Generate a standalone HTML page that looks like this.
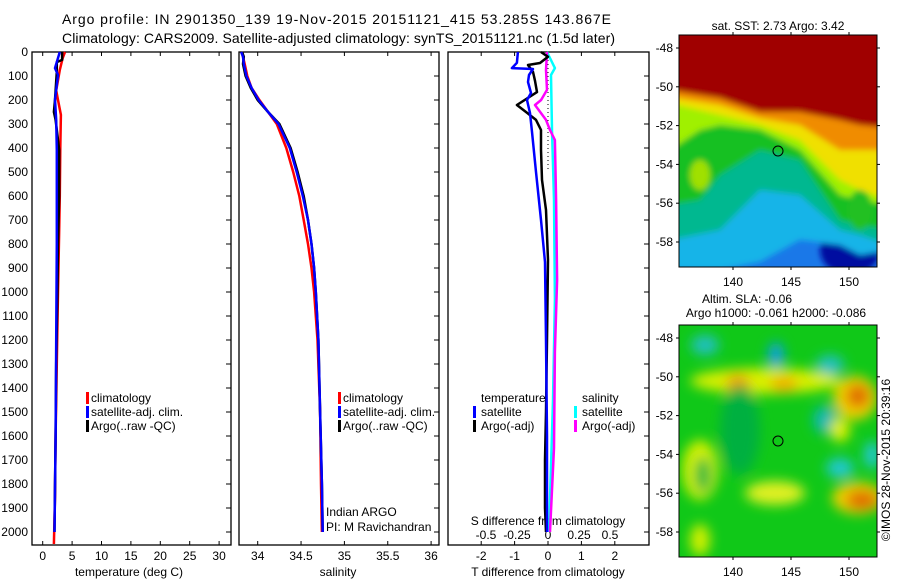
<!DOCTYPE html>
<html><head><meta charset="utf-8"><style>
html,body{margin:0;padding:0;background:#fff;}
svg{display:block;font-family:"Liberation Sans",sans-serif;}
text{font-size:12px;fill:#000;}
</style></head><body>
<svg id="fig" width="900" height="580" viewBox="0 0 900 580">
<defs>
<filter id="bl" x="-20%" y="-20%" width="140%" height="140%"><feGaussianBlur stdDeviation="3"/></filter>
<filter id="bl2" x="-50%" y="-50%" width="200%" height="200%"><feGaussianBlur stdDeviation="6"/></filter>
<clipPath id="c1"><rect x="679" y="35" width="198" height="232"/></clipPath>
<clipPath id="c2"><rect x="679" y="325" width="198" height="232"/></clipPath>
</defs>
<text x="62" y="24" style="font-size:14px" textLength="549" lengthAdjust="spacing">Argo profile: IN 2901350_139 19-Nov-2015 20151121_415 53.285S 143.867E</text>
<text x="62" y="43" style="font-size:14px" textLength="553" lengthAdjust="spacing">Climatology: CARS2009. Satellite-adjusted climatology: synTS_20151121.nc (1.5d later)</text>

<!-- top map -->
<g clip-path="url(#c1)">
<rect x="679" y="35" width="198" height="232" fill="#1a78e8"/>
<g filter="url(#bl)">
<ellipse cx="850" cy="250" rx="30" ry="25" fill="#0010a0"/>
<path d="M670,30 L890,30 L890,250 L860,255 L840,245 L800,240 L760,262 L720,270 L670,270 Z" fill="#14b4e8"/>
<path d="M670,30 L890,30 L890,245 L860,235 L840,230 L800,195 L760,190 L720,230 L670,240 Z" fill="#00b890"/>
<path d="M670,30 L890,30 L890,230 L860,225 L840,220 L800,160 L760,150 L720,175 L700,200 L670,205 Z" fill="#18c020"/>
<path d="M670,30 L890,30 L890,205 L860,200 L840,195 L800,150 L760,130 L720,125 L700,130 L670,150 Z" fill="#a0f000"/>
<path d="M670,30 L890,30 L890,200 L860,190 L840,180 L800,140 L760,125 L720,115 L670,103 Z" fill="#f0e000"/>
<path d="M670,30 L890,30 L890,150 L860,150 L840,150 L800,125 L760,118 L720,105 L670,97 Z" fill="#f08c00"/>
<path d="M670,30 L890,30 L890,128 L860,125 L840,120 L800,112 L760,112 L720,98 L670,90 Z" fill="#a00000"/>
<ellipse cx="860" cy="210" rx="12" ry="20" fill="#20c020"/>
<ellipse cx="700" cy="175" rx="10" ry="15" fill="#a0e000"/>
</g>
</g>
<rect x="679" y="35" width="198" height="232" fill="none" stroke="#000"/>
<circle cx="778" cy="151" r="5" fill="none" stroke="#000"/>
<text x="778" y="30" text-anchor="middle">sat. SST: 2.73 Argo: 3.42</text>

<!-- bottom map -->
<g clip-path="url(#c2)">
<rect x="679" y="325" width="198" height="232" fill="#10c818"/>
<g filter="url(#bl2)">
<ellipse cx="765" cy="381" rx="75" ry="13" fill="#d8f000"/>
<ellipse cx="738" cy="384" rx="12" ry="10" fill="#f0a000"/>
<ellipse cx="784" cy="384" rx="14" ry="8" fill="#f0b000"/>
<ellipse cx="855" cy="398" rx="22" ry="22" fill="#f0d000"/>
<ellipse cx="858" cy="396" rx="12" ry="12" fill="#e07000"/>
<ellipse cx="858" cy="498" rx="26" ry="16" fill="#f0d000"/>
<ellipse cx="862" cy="500" rx="16" ry="10" fill="#e07000"/>
<ellipse cx="775" cy="493" rx="30" ry="12" fill="#e0f020"/>
<ellipse cx="700" cy="470" rx="18" ry="30" fill="#d0f000"/>
<ellipse cx="703" cy="475" rx="8" ry="18" fill="#20b840"/>
<ellipse cx="700" cy="540" rx="10" ry="16" fill="#d0f000"/>
<ellipse cx="705" cy="345" rx="14" ry="10" fill="#20c0c0"/>
<ellipse cx="776" cy="355" rx="8" ry="13" fill="#10a0e0"/>
<ellipse cx="830" cy="365" rx="14" ry="10" fill="#20c0c0"/>
<ellipse cx="825" cy="420" rx="12" ry="14" fill="#10b8b0"/>
<ellipse cx="840" cy="468" rx="14" ry="10" fill="#20c8d0"/>
<ellipse cx="872" cy="455" rx="8" ry="14" fill="#20c8d0"/>
<ellipse cx="740" cy="430" rx="20" ry="45" fill="#00b040"/>
<ellipse cx="840" cy="430" rx="10" ry="12" fill="#e0f000"/>
</g>
</g>
<rect x="679" y="325" width="198" height="232" fill="none" stroke="#000"/>
<circle cx="778" cy="441" r="5" fill="none" stroke="#000"/>
<text x="747" y="303" text-anchor="middle">Altim. SLA: -0.06</text>
<text x="776" y="317" text-anchor="middle">Argo h1000: -0.061 h2000: -0.086</text>
<text transform="translate(890,460) rotate(-90)" text-anchor="middle">©IMOS 28-Nov-2015 20:39:16</text>

<g id="plots"></g>
</svg>
<script>
// ---- data ----
const depthTicks = [0,100,200,300,400,500,600,700,800,900,1000,1100,1200,1300,1400,1500,1600,1700,1800,1900,2000];
const tempTicks = [0,5,10,15,20,25,30];
const salTicks = [34,34.5,35,35.5,36];
const salTickLabels = ['34','34.5','35','35.5','36'];
const dTTicks = [-2,-1,0,1,2];
const dSTicks = [-0.5,-0.25,0,0.25,0.5];
const dSTickLabels = ['-0.5','-0.25','0','0.25','0.5'];

const tClimDepth = [0,25,75,160,200,262,400,600,740,1000,1300,1600,1850,2050];
const tClim = [3.8,3.4,2.9,2.3,2.6,3.1,3.0,2.9,2.8,2.6,2.4,2.2,2.1,1.9];
const tArgoDepth = [0,33,42,83,200,250,283,408,600,800,1000,1300,1600,2000];
const tArgo = [3.3,3.3,2.4,2.4,2.1,1.9,2.2,2.8,2.8,2.6,2.5,2.3,2.2,2.0];
const tSatDepth = [0,67,96,158,200,283,408,800,1200,1600,2000];
const tSat = [2.9,2.1,2.6,2.3,2.1,2.3,2.4,2.4,2.3,2.2,2.0];

const sDepth = [0,20,50,100,150,200,250,300,400,500,600,700,800,900,1000,1200,1500,1800,2000];
const sClim = [33.82,33.83,33.85,33.88,33.93,34.02,34.12,34.22,34.33,34.41,34.48,34.53,34.58,34.62,34.65,34.69,34.72,34.73,34.74];
const sSat = [33.81,33.83,33.84,33.87,33.93,34.01,34.12,34.24,34.37,34.45,34.52,34.58,34.62,34.65,34.67,34.70,34.72,34.74,34.75];
const sArgo = [33.82,33.84,33.83,33.86,33.92,34.0,34.12,34.25,34.38,34.46,34.53,34.58,34.62,34.65,34.67,34.70,34.72,34.74,34.75];

const dTSatDepth = [0,45,67,71,96,125,171,200,254,333,500,700,875,1200,1600,2000];
const dTSat = [-0.90,-0.93,-1.08,-0.45,-0.57,-0.60,-0.51,-0.63,-0.54,-0.48,-0.36,-0.21,-0.09,-0.06,-0.03,-0.03];
const dTArgoDepth = [0,20,46,54,83,120,167,221,250,283,325,408,533,658,867,1200,1500,1700,1900,2000];
const dTArgo = [-0.21,0,-0.24,-0.60,-0.45,-0.39,-0.33,-0.93,-0.66,-0.36,-0.21,-0.21,-0.18,-0.06,0,-0.03,-0.06,-0.09,-0.09,-0.06];
const dSArgoDepth = [0,75,158,200,221,283,325,367,617,950,1250,1650,2000];
const dSArgo = [-0.008,-0.016,-0.008,-0.056,-0.105,-0.016,0.016,0.056,0.065,0.073,0.056,0.048,0.016];
const dSSatDepth = [0,67,96,325,617,1033,1450,2000];
const dSSat = [-0.008,0.056,0.024,0.032,0.048,0.056,0.040,0.008];

const mapLats = [-48,-50,-52,-54,-56,-58];
const mapLons = [140,145,150];

// ---- helpers ----
const NS='http://www.w3.org/2000/svg';
const root=document.getElementById('plots');
function el(tag,attrs,parent){const e=document.createElementNS(NS,tag);for(const k in attrs)e.setAttribute(k,attrs[k]);(parent||root).appendChild(e);return e;}
const TOP=52, BOT=545;
const yD=d=>TOP+d*0.24;
const xT=v=>42.7+v*5.88;
const xS=v=>257.7+(v-34)*86.7;
const xDT=v=>548+v*33.4;
const xDS=v=>548+v*124;

function frame(x0,x1,name){
  const r=el('rect',{x:x0,y:TOP,width:x1-x0,height:BOT-TOP,fill:'none',stroke:'#000','stroke-width':1.3});
  
  
  depthTicks.forEach(d=>{
    const t=el('line',{x1:x1-5,x2:x1,y1:yD(d),y2:yD(d),stroke:'#000'});
    
    
  });
}
function stepLine(xs,ds,fx,color,name,w){
  let p='';
  for(let i=0;i<xs.length;i++){
    const x=fx(xs[i]).toFixed(1), y=yD(ds[i]).toFixed(1);
    if(i===0)p+=`M${x},${y}`;else p+=`L${x},${y}`;
  }
  const e=el('path',{d:p,fill:'none',stroke:color,'stroke-width':w||2.5,'stroke-linejoin':'round'});
  
  
}
function text(x,y,s,anchor,name,size){
  const t=el('text',{x:x,y:y,'text-anchor':anchor||'start'});
  if(size)t.style.fontSize=size+'px';
  t.textContent=s;
  
  
  return t;
}
function legendBar(x,y,color,name){
  const r=el('rect',{x:x,y:y-10,width:3,height:12,fill:color});
  
  
}

depthTicks.forEach(d=>{text(28,yD(d)+4,String(d),'end','depth-tick-label');});

// panel 1 temperature
frame(32,231,'temperature-panel');
tempTicks.forEach(v=>{
  const t=el('line',{x1:xT(v),x2:xT(v),y1:BOT-4,y2:BOT,stroke:'#000'});
  
  
  const t2=el('line',{x1:xT(v),x2:xT(v),y1:TOP,y2:TOP+4,stroke:'#000'});
  
  
  text(xT(v),560,String(v),'middle','temp-tick-label');
});
text(129,576,'temperature (deg C)','middle','temp-x-axis-title');
stepLine(tClim,tClimDepth,xT,'#ff0000','temp-climatology-line');
stepLine(tArgo,tArgoDepth,xT,'#000000','temp-argo-line');
stepLine(tSat,tSatDepth,xT,'#0000ff','temp-satellite-line');
legendBar(86,402,'#ff0000','legend-climatology-swatch');text(91,402,'climatology','start','legend-climatology');
legendBar(86,416,'#0000ff','legend-satellite-swatch');text(91,416,'satellite-adj. clim.','start','legend-satellite');
legendBar(86,430,'#000000','legend-argo-swatch');text(91,430,'Argo(..raw -QC)','start','legend-argo');

// panel 2 salinity
frame(239,439,'salinity-panel');
salTicks.forEach((v,i)=>{
  const t=el('line',{x1:xS(v),x2:xS(v),y1:BOT-4,y2:BOT,stroke:'#000'});
  
  
  const t2=el('line',{x1:xS(v),x2:xS(v),y1:TOP,y2:TOP+4,stroke:'#000'});
  
  
  text(xS(v),560,salTickLabels[i],'middle','sal-tick-label');
});
text(338,576,'salinity','middle','sal-x-axis-title');
stepLine(sClim,sDepth,xS,'#ff0000','sal-climatology-line');
stepLine(sArgo,sDepth,xS,'#000000','sal-argo-line');
stepLine(sSat,sDepth,xS,'#0000ff','sal-satellite-line');
legendBar(338,402,'#ff0000','sal-legend-climatology-swatch');text(343,402,'climatology','start','sal-legend-climatology');
legendBar(338,416,'#0000ff','sal-legend-satellite-swatch');text(343,416,'satellite-adj. clim.','start','sal-legend-satellite');
legendBar(338,430,'#000000','sal-legend-argo-swatch');text(343,430,'Argo(..raw -QC)','start','sal-legend-argo');
text(326,516,'Indian ARGO','start','credit-indian-argo');
text(326,531,'PI: M Ravichandran','start','credit-pi');

// panel 3 differences
frame(448,649,'difference-panel');
dTTicks.forEach(v=>{
  const t=el('line',{x1:xDT(v),x2:xDT(v),y1:BOT-4,y2:BOT,stroke:'#000'});
  
  
  const t2=el('line',{x1:xDT(v),x2:xDT(v),y1:TOP,y2:TOP+4,stroke:'#000'});
  
  
  text(xDT(v),560,String(v),'middle','dt-tick-label');
});
dSTicks.forEach((v,i)=>{text(xDS(v),539,dSTickLabels[i],'middle','ds-tick-label');});
text(548,525,'S difference from climatology','middle','ds-axis-title');
text(548,576,'T difference from climatology','middle','dt-axis-title');
const zl=el('line',{x1:548,x2:548,y1:TOP,y2:yD(500),stroke:'#000','stroke-dasharray':'1,3'});


stepLine(dSSat,dSSatDepth,xDS,'#00ffff','ds-satellite-line');
stepLine(dSArgo,dSArgoDepth,xDS,'#ff00ff','ds-argo-line');
stepLine(dTArgo,dTArgoDepth,xDT,'#000000','dt-argo-line');
stepLine(dTSat,dTSatDepth,xDT,'#0000ff','dt-satellite-line');
text(481,402,'temperature','start','dt-legend-title');
legendBar(473,416,'#0000ff','dt-legend-satellite-swatch');text(481,416,'satellite','start','dt-legend-satellite');
legendBar(473,430,'#000000','dt-legend-argo-swatch');text(481,430,'Argo(-adj)','start','dt-legend-argo');
text(582,402,'salinity','start','ds-legend-title');
legendBar(574,416,'#00ffff','ds-legend-satellite-swatch');text(582,416,'satellite','start','ds-legend-satellite');
legendBar(574,430,'#ff00ff','ds-legend-argo-swatch');text(582,430,'Argo(-adj)','start','ds-legend-argo');

// map axes
function mapAxes(y0,y1,lat48y,labelY){
  const latY=l=>lat48y+(-48-l)*19.4;
  const lonX=l=>733+(l-140)*11.6;
  mapLats.forEach(l=>{
    text(673,latY(l)+4,String(l),'end','map-lat-label');
    const a=el('line',{x1:676,x2:679,y1:latY(l),y2:latY(l),stroke:'#000'});
    
    
    const b=el('line',{x1:877,x2:880,y1:latY(l),y2:latY(l),stroke:'#000'});
    
    
  });
  mapLons.forEach(l=>{
    text(lonX(l),labelY,String(l),'middle','map-lon-label');
    const a=el('line',{x1:lonX(l),x2:lonX(l),y1:y0-3,y2:y0,stroke:'#000'});
    
    
    const b=el('line',{x1:lonX(l),x2:lonX(l),y1:y1,y2:y1+3,stroke:'#000'});
    
    
  });
}
mapAxes(35,267,48,286);
mapAxes(325,557,338,576);
</script>
</body></html>
